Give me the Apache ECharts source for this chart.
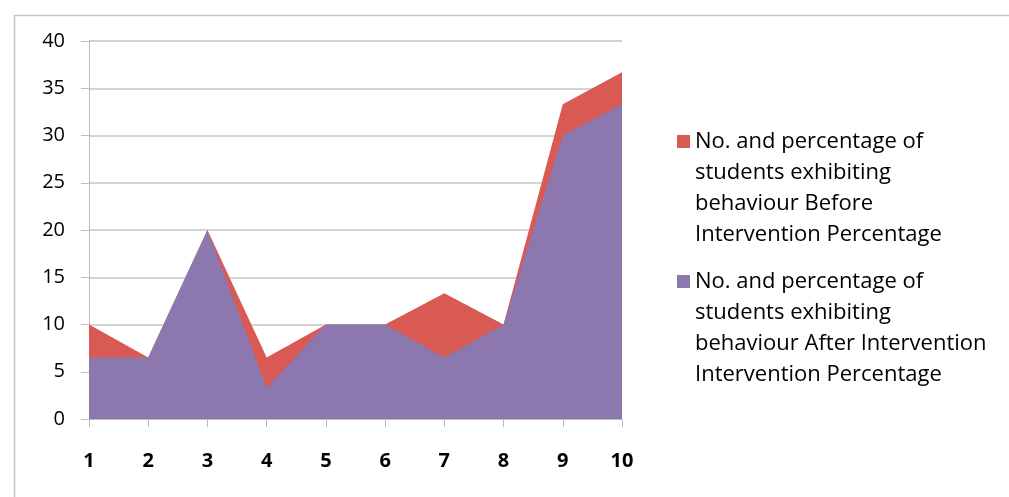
<!DOCTYPE html>
<html>
<head>
<meta charset="utf-8">
<script src="https://cdn.jsdelivr.net/npm/echarts@6/dist/echarts.min.js"></script>
<style>
html,body{margin:0;padding:0;background:#fff;}
#chart{width:1009px;height:497px;}
</style>
</head>
<body>
<div id="chart"></div>
<script>
const categories = ['1','2','3','4','5','6','7','8','9','10'];
const beforeValues = [10, 6.5, 20, 6.5, 10, 10, 13.3, 10, 33.3, 36.7];
const afterValues = [6.5, 6.5, 20, 3.3, 10, 10, 6.5, 10, 30, 33.3];
const yTicks = { min: 0, max: 40, interval: 5 };
const seriesNames = [
  'No. and percentage of\nstudents exhibiting\nbehaviour Before\nIntervention Percentage',
  'No. and percentage of\nstudents exhibiting\nbehaviour After Intervention\nIntervention Percentage'
];

const FONT = '"Open Sans", Lato, sans-serif';
const chart = echarts.init(document.getElementById('chart'), null, {renderer: 'canvas'});
const iconPath = 'path://M0,0 M0,124 M0,9 L13,9 L13,22 L0,22 Z';
chart.setOption({
  animation: false,
  backgroundColor: '#ffffff',
  graphic: [{
    type: 'rect', left: 12, top: 13, silent: true,
    shape: {width: 1200, height: 700},
    style: {fill: 'none', stroke: '#c4c4c4', lineWidth: 1.5}
  }],
  grid: {left: 89, right: 387, top: 41, bottom: 78},
  legend: {
    orient: 'vertical',
    left: 677, top: 126, padding: 0,
    itemWidth: 13, itemHeight: 124, itemGap: 16,
    icon: iconPath,
    itemStyle: {borderWidth: 0},
    textStyle: {fontFamily: FONT, fontSize: 22, color: '#000', lineHeight: 31},
    data: seriesNames
  },
  xAxis: {
    type: 'category',
    data: categories,
    boundaryGap: false,
    axisLine: {lineStyle: {color: '#bdbdbd', width: 1}},
    axisTick: {show: true, length: 8, lineStyle: {color: '#bdbdbd'}},
    axisLabel: {margin: 32, color: '#000', fontFamily: FONT, fontSize: 20, fontWeight: 'bold'},
    splitLine: {show: false}
  },
  yAxis: {
    type: 'value',
    min: yTicks.min, max: yTicks.max, interval: yTicks.interval,
    axisLine: {show: true, lineStyle: {color: '#bdbdbd', width: 1}},
    axisTick: {show: true, length: 8, lineStyle: {color: '#bdbdbd'}},
    axisLabel: {margin: 24, color: '#000', fontFamily: FONT, fontSize: 20},
    splitLine: {show: true, lineStyle: {color: '#c4c4c4', width: 1.5}}
  },
  series: [
    {
      name: seriesNames[0], type: 'line', data: beforeValues,
      symbol: 'none', lineStyle: {width: 0}, itemStyle: {color: '#D85A52'},
      areaStyle: {color: '#D85A52', opacity: 1}
    },
    {
      name: seriesNames[1], type: 'line', data: afterValues,
      symbol: 'none', lineStyle: {width: 0}, itemStyle: {color: '#8C78AF'},
      areaStyle: {color: '#8C78AF', opacity: 1}
    }
  ]
});
</script>
</body>
</html>
